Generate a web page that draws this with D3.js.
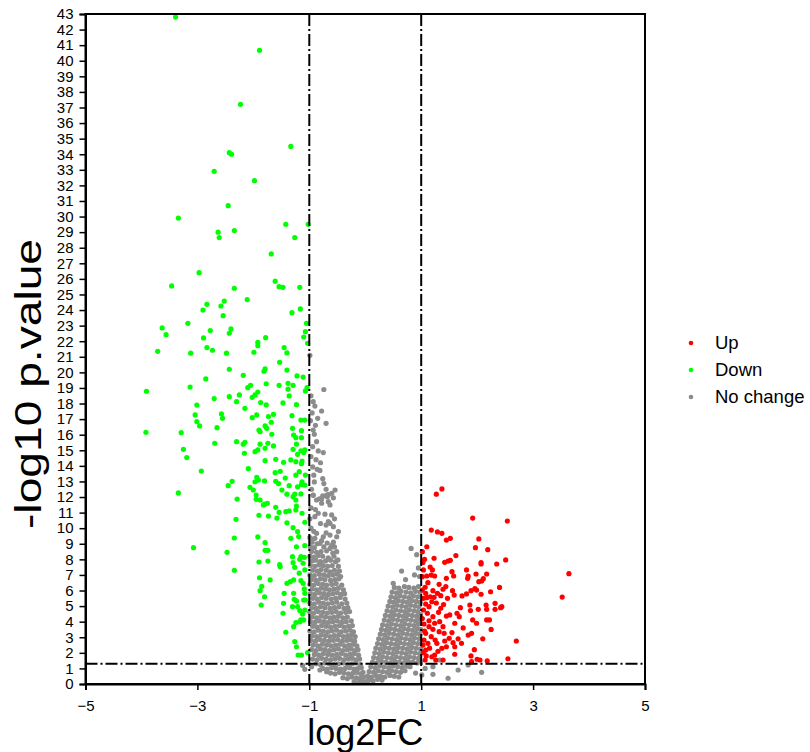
<!DOCTYPE html>
<html>
<head>
<meta charset="utf-8">
<script src="https://cdn.jsdelivr.net/npm/d3@7"></script>
<style>
  html, body { margin: 0; padding: 0; background: #fff; }
  svg { display: block; font-family: "Liberation Sans", Arial, Helvetica, sans-serif; }
</style>
</head>
<body>
<script>
// Volcano plot: log2 fold change vs -log10 p-value

const xTicks = [-5, -3, -1, 1, 3, 5];
const yTicks = [0,1,2,3,4,5,6,7,8,9,10,11,12,13,14,15,16,17,18,19,20,21,22,23,24,25,26,27,28,29,30,31,32,33,34,35,36,37,38,39,40,41,42,43];
const fcCutoff = [-1, 1];
const pCutoff = 1.3;
const legendLabels = ["Up", "Down", "No change"];
const legendColors = ["#ff0000", "#00ff00", "#8c8c8c"];

// [log2FC, -log10 p]
const upGenes = [
[1.27,12.18],[1.37,12.52],[1.92,10.65],[2.54,10.46],[1.18,9.88],[1.29,9.76],[1.37,9.67],[1.45,9.24],[1.52,9.35],[2.03,9.31],[1.10,8.81],[1.02,8.49],[1.97,8.75],[2.19,8.62],
[1.23,8.07],[1.42,7.81],[1.48,7.89],[1.52,7.94],[1.62,8.24],[2.07,7.79],[2.07,7.70],[2.35,7.70],[2.51,7.96],
[1.16,7.51],[1.20,7.32],[1.04,7.32],[1.02,6.89],[1.10,6.93],[1.18,6.99],[1.24,6.93],
[1.55,7.21],[1.58,6.93],[1.45,6.78],[1.81,7.32],[1.84,6.93],[1.83,6.78],[1.98,7.06],[2.17,7.06],[2.11,6.76],[2.08,6.61],[2.03,6.57],
[1.32,6.40],[1.44,6.25],[1.39,6.08],[1.07,6.21],[1.08,5.82],[1.02,6.03],
[1.21,5.99],[1.29,5.82],[1.35,5.67],[1.23,5.56],[1.16,5.60],[1.10,5.54],[1.04,5.50],
[1.56,5.99],[1.59,5.71],[1.73,5.65],[1.81,5.78],[1.89,5.99],[1.96,6.12],[1.99,6.03],[2.07,5.76],[2.24,5.92],[2.32,5.18],[2.42,4.90],[2.44,4.96],[3.52,5.58],[3.64,7.08],
[1.08,5.13],[1.19,5.28],[1.14,4.96],[1.35,4.86],[1.45,4.36],[1.51,4.43],[1.64,4.54],[1.68,4.32],[1.60,3.90],[1.87,5.07],[1.88,4.71],[1.99,3.90],[1.92,4.11],[2.02,4.79],[2.16,5.07],[2.17,4.79],[2.17,4.11],[2.22,4.11],[2.32,4.79],
[1.04,4.75],[1.11,4.54],[1.21,4.32],[1.14,4.06],[1.24,3.90],[1.33,4.00],[1.05,3.85],[1.14,3.68],[1.21,3.51],[1.32,3.36],[1.39,3.68],[1.41,3.25],[1.08,3.25],[1.18,3.04],[1.25,2.82],[1.28,2.61],[1.12,2.61],[1.05,2.82],[1.42,2.76],[1.50,2.93],[1.57,2.65],[1.60,2.39],[1.45,2.39],[1.37,2.29],[1.72,2.61],[1.84,3.14],[1.90,3.25],[2.70,2.76],
[1.04,2.01],[1.08,2.18],[1.19,1.75],[1.24,1.86],[1.26,1.54],[1.39,1.54],[1.07,1.54],[1.60,1.91],[1.89,1.80],[2.00,1.59],[2.05,1.54],[2.18,1.49],[2.55,1.62],[1.90,1.43],
[1.02,4.20],[1.06,3.40],[1.03,2.50],[1.15,2.30],[1.30,2.10],[1.09,1.80],[1.31,4.60],[1.27,5.20],[1.40,5.10],[1.47,5.50],[1.12,6.50],[1.03,7.80],[1.06,8.00],[1.70,4.90],[1.75,3.60],[1.55,3.30],[1.66,2.90],[2.10,2.90],[2.25,3.50],[2.40,6.20],[1.95,2.20]
];

const downGenes = [
[-3.39,42.8],[-1.89,40.67],[-2.23,37.2],[-1.33,34.5],[-2.43,34.1],[-2.39,34.0],[-2.70,32.9],[-1.98,32.3],
[-2.45,30.7],[-3.34,29.9],[-1.42,29.5],[-1.02,29.5],[-2.63,29.0],[-2.34,29.1],[-2.61,28.65],[-1.26,28.65],[-1.68,27.6],[-2.97,26.4],[-3.46,25.55],[-2.34,25.4],[-1.61,25.85],[-1.54,25.5],[-1.47,25.46],[-1.17,25.46],[-2.11,24.67],[-2.52,24.58],[-2.83,24.37],[-2.90,24.0],[-2.58,24.26],[-2.54,23.64],[-1.16,24.07],[-1.31,23.83],
[-3.63,22.85],[-3.56,22.42],[-3.17,23.15],[-2.77,22.68],[-2.40,22.79],[-2.43,22.51],[-2.89,22.21],[-2.83,21.59],[-2.73,21.42],[-3.71,21.35],[-3.12,21.23],[-2.48,21.23],[-1.92,21.93],[-1.92,21.71],[-1.78,22.23],[-1.99,21.29],[-1.45,21.59],[-1.40,21.25],[-1.05,23.15],[-1.07,22.61],[-1.10,22.27],[-1.03,21.87],
[-1.53,20.65],[-2.43,20.2],[-2.18,19.81],[-1.79,20.22],[-1.81,20.07],[-1.40,20.15],[-1.22,19.77],[-1.11,19.70],[-2.85,19.58],[-3.13,19.06],[-3.91,18.79],[-2.05,19.17],[-2.10,19.02],[-1.77,19.27],[-1.54,19.17],[-1.38,19.30],[-1.29,19.17],[-1.38,18.92],[-1.07,18.81],[-1.04,19.02],[-2.70,18.32],[-2.43,18.44],[-2.25,18.55],[-1.92,18.74],[-1.97,18.55],[-2.02,18.40],[-1.36,18.49],
[-3.01,17.9],[-2.30,18.12],[-2.15,17.69],[-1.87,18.06],[-1.77,17.91],[-1.47,18.04],[-1.23,17.93],[-3.04,17.27],[-3.01,16.84],[-2.96,16.56],[-2.57,17.33],[-2.55,17.05],[-2.65,16.45],[-2.02,17.09],[-1.94,17.27],[-1.73,17.16],[-1.64,17.31],[-1.68,16.80],[-1.31,17.22],[-1.15,16.94],[-1.08,16.94],
[-3.92,16.15],[-3.29,16.13],[-3.25,15.06],[-3.19,14.53],[-2.69,15.45],[-2.30,15.55],[-2.15,15.51],[-2.18,15.39],[-2.16,14.81],[-1.97,14.91],[-1.92,15.02],[-1.88,15.39],[-1.79,15.13],[-1.74,15.45],[-1.64,15.28],[-1.90,16.30],[-1.88,16.19],[-1.79,16.56],[-1.76,16.41],[-1.67,16.03],[-1.30,16.41],[-1.28,15.98],[-1.24,15.81],[-1.14,16.26],[-1.14,15.81],[-1.23,15.39],[-1.29,15.06],[-1.15,14.97],[-1.08,15.02],[-1.21,14.74],[-1.13,14.31],[-1.10,14.85],[-1.79,14.33],[-1.60,14.42],[-1.46,14.23],[-1.33,14.38],[-1.24,14.27],[-1.14,14.14],
[-2.93,13.67],[-2.09,13.82],[-1.94,13.27],[-1.91,13.09],[-1.97,12.98],[-1.61,13.56],[-1.52,13.65],[-1.60,13.01],[-1.55,12.86],[-1.80,13.03],[-1.43,13.22],[-1.24,13.40],[-1.18,13.63],[-1.13,12.98],[-1.07,13.41],[-1.14,12.79],[-2.38,13.01],[-2.45,12.73],[-3.34,12.26],[-2.29,11.87],[-2.06,12.62],[-2.00,12.45],[-1.95,12.13],[-1.95,11.85],[-1.88,11.81],[-1.79,11.55],[-1.75,11.60],[-1.82,11.49],[-1.49,12.45],[-1.40,12.18],[-1.36,12.73],[-1.29,12.02],[-1.24,11.81],[-1.23,11.42],[-1.26,12.18],[-1.15,12.20],[-1.08,12.77],[-1.21,12.66],[-1.60,11.34],[-1.54,11.02],[-1.42,11.06],[-1.36,11.12],[-1.90,10.83],[-1.73,10.78],[-1.58,10.65],
[-1.24,11.17],[-1.13,10.96],[-1.08,10.38],[-1.40,10.35],[-1.29,10.03],[-1.21,9.78],[-1.19,9.46],[-1.33,9.35],[-1.23,8.81],[-1.08,8.88],[-2.31,10.57],[-2.34,9.37],[-1.92,9.44],[-1.79,9.07],[-1.79,8.58],[-1.74,8.58],[-1.74,7.89],[-3.07,8.75],[-2.47,8.45],[-2.34,7.30],[-1.90,7.83],[-1.89,6.82],[-1.88,5.99],[-1.85,6.27],[-1.86,5.07],[-1.80,5.60],[-1.70,6.68],[-1.53,7.66],[-1.52,7.53],[-1.40,6.46],[-1.34,6.57],[-1.28,6.68],[-1.45,5.82],[-1.46,5.18],[-1.47,4.54],[-1.42,3.32],
[-1.30,8.17],[-1.29,7.79],[-1.26,7.49],[-1.17,8.00],[-1.15,8.17],[-1.09,8.13],[-1.11,7.75],[-1.08,7.32],[-1.18,7.11],[-1.15,6.63],[-1.11,6.46],[-1.09,6.10],[-1.08,5.82],[-1.07,5.39],
[-1.28,5.82],[-1.27,5.44],[-1.23,5.33],[-1.30,4.96],[-1.21,4.96],[-1.17,4.71],[-1.12,4.49],[-1.15,4.11],[-1.24,3.94],[-1.28,3.68],[-1.17,4.00],[-1.10,4.11],[-1.26,2.72],[-1.23,2.39],[-1.20,1.86],[-1.14,1.86],[-1.03,2.01],[-1.08,4.75],[-1.10,5.39]
];

const noChangeGenes = [
// upper tail of the left arm
[-0.99,21.1],[-0.74,18.9],[-0.97,18.5],[-0.93,18.12],[-0.90,17.84],[-0.78,17.52],[-0.95,17.4],[-0.85,17.05],[-0.98,16.9],[-0.70,16.73],[-0.89,16.6],[-0.93,16.30],[-0.91,16.03],[-0.87,15.55],[-0.75,14.85],[-0.84,14.96],[-0.94,15.23],
[-0.97,14.6],[-0.88,14.4],[-0.80,14.2],[-0.94,13.93],[-0.86,13.78],[-0.81,13.71],[-0.92,13.4],[-0.76,13.18],[-0.91,12.97],[-0.74,12.86],[-0.70,12.50],[-0.66,12.15],[-0.76,12.07],[-0.82,11.89],[-0.93,12.11],[-0.96,12.50],[-0.78,11.87],[-0.68,12.02],[-0.60,12.24],[-0.57,11.95],
[-0.93,12.13],[-0.87,11.81],[-0.78,11.60],[-0.69,12.13],[-0.66,11.70],[-0.63,11.49],[-0.54,12.45],[-0.97,11.3],[-0.89,11.2],[-0.72,10.9],[-0.55,10.6],[-0.99,10.6],[-0.80,10.3],[-0.70,10.2],
[-0.60,10.85],[-0.66,10.42],[-0.63,10.31],[-0.84,10.96],[-0.90,10.74],[-0.57,10.10],[-0.48,9.78],[-0.51,9.45],[-0.63,9.56],[-0.87,9.67],[-0.75,9.45],[-0.81,9.03],[-0.51,8.49],[-0.49,7.96],
// dense left arm
[-0.97,10.0],[-0.92,9.8],[-0.96,9.3],[-0.70,9.7],
[-0.99,9.4],[-0.90,9.35],[-0.78,9.2],[-0.57,9.1],
[-0.95,9.1],[-0.86,9.0],[-0.68,9.05],[-0.60,8.9],
[-0.98,8.8],[-0.91,8.75],[-0.74,8.8],[-0.63,8.7],[-0.55,8.8],
[-0.96,8.5],[-0.87,8.45],[-0.79,8.5],[-0.69,8.55],[-0.58,8.4],
[-0.99,8.2],[-0.92,8.15],[-0.84,8.25],[-0.76,8.2],[-0.66,8.1],[-0.56,8.2],
[-0.95,7.9],[-0.88,7.95],[-0.80,7.85],[-0.71,7.9],[-0.62,7.95],[-0.53,7.85],
[-0.98,7.6],[-0.90,7.55],[-0.83,7.65],[-0.75,7.6],[-0.67,7.55],[-0.59,7.6],[-0.48,7.55],
[-0.94,7.3],[-0.86,7.25],[-0.79,7.35],[-0.70,7.3],[-0.63,7.2],[-0.55,7.3],[-0.46,7.25],
[-0.99,7.0],[-0.91,6.95],[-0.82,7.05],[-0.74,7.0],[-0.66,6.95],[-0.58,7.0],[-0.50,7.05],[-0.44,6.9],
[-0.96,6.7],[-0.88,6.65],[-0.80,6.75],[-0.72,6.7],[-0.62,6.65],[-0.54,6.7],[-0.47,6.75],
[-0.99,6.4],[-0.92,6.35],[-0.84,6.45],[-0.76,6.4],[-0.69,6.35],[-0.60,6.4],[-0.52,6.45],[-0.42,6.35],
[-0.95,6.1],[-0.87,6.05],[-0.79,6.15],[-0.71,6.1],[-0.64,6.05],[-0.56,6.1],[-0.48,6.15],[-0.39,6.05],
[-0.98,5.8],[-0.90,5.75],[-0.82,5.85],[-0.74,5.8],[-0.66,5.75],[-0.58,5.8],[-0.50,5.85],[-0.43,5.75],[-0.37,5.8],
[-0.94,5.5],[-0.86,5.45],[-0.78,5.55],[-0.70,5.5],[-0.61,5.45],[-0.53,5.5],[-0.45,5.55],[-0.36,5.45],
[-0.99,5.2],[-0.91,5.15],[-0.83,5.25],[-0.75,5.2],[-0.67,5.15],[-0.59,5.2],[-0.51,5.25],[-0.42,5.15],[-0.33,5.2],
[-0.96,4.9],[-0.88,4.85],[-0.80,4.95],[-0.72,4.9],[-0.63,4.85],[-0.55,4.9],[-0.47,4.95],[-0.38,4.85],[-0.31,4.9],
[-0.99,4.6],[-0.92,4.55],[-0.84,4.65],[-0.76,4.6],[-0.68,4.55],[-0.60,4.6],[-0.52,4.65],[-0.44,4.55],[-0.35,4.6],[-0.28,4.65],
[-0.95,4.3],[-0.87,4.25],[-0.79,4.35],[-0.71,4.3],[-0.63,4.25],[-0.56,4.3],[-0.48,4.35],[-0.40,4.25],[-0.32,4.3],
[-0.98,4.0],[-0.90,3.95],[-0.82,4.05],[-0.74,4.0],[-0.66,3.95],[-0.58,4.0],[-0.50,4.05],[-0.42,3.95],[-0.34,4.0],[-0.25,4.05],
[-0.94,3.7],[-0.86,3.65],[-0.78,3.75],[-0.70,3.7],[-0.62,3.65],[-0.54,3.7],[-0.46,3.75],[-0.38,3.65],[-0.30,3.7],[-0.23,3.75],
[-0.99,3.4],[-0.91,3.35],[-0.83,3.45],[-0.75,3.4],[-0.67,3.35],[-0.59,3.4],[-0.51,3.45],[-0.43,3.35],[-0.35,3.4],[-0.27,3.45],[-0.21,3.35],
[-0.95,3.1],[-0.87,3.05],[-0.79,3.15],[-0.71,3.1],[-0.63,3.05],[-0.55,3.1],[-0.47,3.15],[-0.39,3.05],[-0.31,3.1],[-0.24,3.15],[-0.18,3.05],
[-0.97,2.8],[-0.89,2.75],[-0.81,2.85],[-0.73,2.8],[-0.65,2.75],[-0.57,2.8],[-0.49,2.85],[-0.41,2.75],[-0.33,2.8],[-0.26,2.85],[-0.19,2.75],
[-0.93,2.5],[-0.85,2.45],[-0.77,2.55],[-0.69,2.5],[-0.61,2.45],[-0.53,2.5],[-0.45,2.55],[-0.37,2.45],[-0.29,2.5],[-0.22,2.55],[-0.15,2.45],
[-0.96,2.2],[-0.88,2.15],[-0.80,2.25],[-0.72,2.2],[-0.64,2.15],[-0.56,2.2],[-0.48,2.25],[-0.40,2.15],[-0.32,2.2],[-0.25,2.25],[-0.18,2.15],[-0.13,2.2],
[-0.91,1.9],[-0.83,1.85],[-0.75,1.95],[-0.67,1.9],[-0.59,1.85],[-0.51,1.9],[-0.43,1.95],[-0.35,1.85],[-0.27,1.9],[-0.20,1.95],[-0.12,1.85],
[-0.94,1.6],[-0.86,1.55],[-0.78,1.65],[-0.70,1.6],[-0.62,1.55],[-0.54,1.6],[-0.46,1.65],[-0.38,1.55],[-0.30,1.6],[-0.23,1.65],[-0.16,1.55],[-0.10,1.6],
[-0.88,1.3],[-0.80,1.25],[-0.72,1.35],[-0.64,1.3],[-0.56,1.25],[-0.48,1.3],[-0.40,1.35],[-0.32,1.25],[-0.24,1.3],[-0.17,1.35],[-0.09,1.25],
[-0.76,1.0],[-0.68,0.95],[-0.60,1.05],[-0.52,1.0],[-0.44,0.95],[-0.36,1.0],[-0.28,1.05],[-0.20,0.95],[-0.13,1.0],[-0.07,1.05],
[-0.62,0.7],[-0.54,0.65],[-0.46,0.75],[-0.38,0.7],[-0.30,0.65],[-0.22,0.7],[-0.15,0.75],[-0.08,0.65],[-0.04,0.75],
[-0.40,0.4],[-0.32,0.35],[-0.24,0.45],[-0.16,0.4],[-0.09,0.35],[-0.03,0.45],
[-0.20,0.15],[-0.12,0.1],[-0.05,0.2],[0.00,0.12],[0.04,0.2],
// stragglers beyond the fold-change cut-off, below the p cut-off
[-1.08,0.94],[-0.96,1.11],[-0.69,0.79],[-1.12,1.2],[-0.81,0.9],
[0.80,1.11],[0.98,1.43],[1.07,1.00],[1.21,1.11],[1.33,1.54],[1.48,0.37],[1.66,0.90],[1.84,1.22],[2.08,0.75],[1.01,0.58],[1.21,0.62],[0.90,0.70],
// upper tail of the right arm
[0.82,8.7],[0.92,8.3],[0.95,7.45],[0.65,7.25],[0.88,7.0],[0.50,6.46],[0.72,6.7],[0.97,6.9],
// dense right arm
[0.52,6.2],[0.60,6.15],[0.70,6.25],[0.78,6.2],[0.87,6.15],[0.95,6.25],
[0.48,5.9],[0.56,5.85],[0.64,5.95],[0.73,5.9],[0.81,5.85],[0.90,5.95],[0.98,5.9],
[0.46,5.6],[0.54,5.55],[0.62,5.65],[0.70,5.6],[0.78,5.55],[0.86,5.65],[0.94,5.6],
[0.44,5.3],[0.51,5.25],[0.59,5.35],[0.67,5.3],[0.75,5.25],[0.83,5.35],[0.91,5.3],[0.98,5.25],
[0.41,5.0],[0.49,4.95],[0.57,5.05],[0.65,5.0],[0.73,4.95],[0.81,5.05],[0.89,5.0],[0.96,4.95],
[0.39,4.7],[0.47,4.65],[0.55,4.75],[0.63,4.7],[0.71,4.65],[0.79,4.75],[0.87,4.7],[0.94,4.65],
[0.36,4.4],[0.44,4.35],[0.52,4.45],[0.60,4.4],[0.68,4.35],[0.76,4.45],[0.84,4.4],[0.92,4.35],[0.99,4.45],
[0.34,4.1],[0.42,4.05],[0.50,4.15],[0.58,4.1],[0.66,4.05],[0.74,4.15],[0.82,4.1],[0.90,4.05],[0.97,4.15],
[0.31,3.8],[0.39,3.75],[0.47,3.85],[0.55,3.8],[0.63,3.75],[0.71,3.85],[0.79,3.8],[0.87,3.75],[0.95,3.85],
[0.29,3.5],[0.37,3.45],[0.45,3.55],[0.53,3.5],[0.61,3.45],[0.69,3.55],[0.77,3.5],[0.85,3.45],[0.93,3.55],[0.99,3.5],
[0.27,3.2],[0.35,3.15],[0.43,3.25],[0.51,3.2],[0.59,3.15],[0.67,3.25],[0.75,3.2],[0.83,3.15],[0.91,3.25],[0.98,3.2],
[0.24,2.9],[0.32,2.85],[0.40,2.95],[0.48,2.9],[0.56,2.85],[0.64,2.95],[0.72,2.9],[0.80,2.85],[0.88,2.95],[0.96,2.9],
[0.22,2.6],[0.30,2.55],[0.38,2.65],[0.46,2.6],[0.54,2.55],[0.62,2.65],[0.70,2.6],[0.78,2.55],[0.86,2.65],[0.94,2.6],
[0.19,2.3],[0.27,2.25],[0.35,2.35],[0.43,2.3],[0.51,2.25],[0.59,2.35],[0.67,2.3],[0.75,2.25],[0.83,2.35],[0.91,2.3],[0.99,2.25],
[0.17,2.0],[0.25,1.95],[0.33,2.05],[0.41,2.0],[0.49,1.95],[0.57,2.05],[0.65,2.0],[0.73,1.95],[0.81,2.05],[0.89,2.0],[0.97,1.95],
[0.15,1.7],[0.23,1.65],[0.31,1.75],[0.39,1.7],[0.47,1.65],[0.55,1.75],[0.63,1.7],[0.71,1.65],[0.79,1.75],[0.87,1.7],[0.95,1.65],
[0.13,1.4],[0.21,1.35],[0.29,1.45],[0.37,1.4],[0.45,1.35],[0.53,1.45],[0.61,1.4],[0.69,1.35],[0.77,1.45],[0.85,1.4],[0.93,1.35],
[0.10,1.1],[0.18,1.05],[0.26,1.15],[0.34,1.1],[0.42,1.05],[0.50,1.15],[0.58,1.1],[0.66,1.05],[0.74,1.15],
[0.07,0.8],[0.15,0.75],[0.23,0.85],[0.31,0.8],[0.39,0.75],[0.47,0.85],[0.55,0.8],[0.63,0.75],[0.71,0.85],
[0.04,0.5],[0.11,0.45],[0.19,0.55],[0.27,0.5],[0.35,0.45],[0.44,0.55],[0.52,0.5],[0.60,0.45],
[0.07,0.25],[0.14,0.2],[0.22,0.3],[0.30,0.25]
];

const W = 810, H = 752;
const plot = { left: 85.5, right: 645, top: 14, bottom: 684 };

const svg = d3.select("body").append("svg")
  .attr("width", W).attr("height", H);

const x = d3.scaleLinear().domain([-5, 5]).range([plot.left, plot.right]);
const y = d3.scaleLinear().domain([0, 43]).range([plot.bottom, plot.top]);

const R = 2.6;

function drawPoints(data, color) {
  svg.append("g")
    .selectAll("circle")
    .data(data)
    .join("circle")
    .attr("cx", d => x(d[0]))
    .attr("cy", d => y(d[1]))
    .attr("r", R)
    .attr("fill", color);
}

drawPoints(noChangeGenes, legendColors[2]);
drawPoints(downGenes, legendColors[1]);
drawPoints(upGenes, legendColors[0]);

// cut-off lines
const dash = "12,3,2,3";
const cut = svg.append("g")
  .attr("stroke", "#000")
  .attr("stroke-width", 2)
  .attr("stroke-dasharray", dash)
  .attr("fill", "none");

cut.selectAll("line.v")
  .data(fcCutoff)
  .join("line")
  .attr("class", "v")
  .attr("x1", d => x(d)).attr("x2", d => x(d))
  .attr("y1", y(43)).attr("y2", y(0));

cut.append("line")
  .attr("x1", x(-5)).attr("x2", x(5))
  .attr("y1", y(pCutoff)).attr("y2", y(pCutoff));

// frame
svg.append("rect")
  .attr("x", plot.left).attr("y", plot.top)
  .attr("width", plot.right - plot.left)
  .attr("height", plot.bottom - plot.top)
  .attr("fill", "none")
  .attr("stroke", "#000")
  .attr("stroke-width", 2);

// axes
const yAxis = svg.append("g")
  .attr("transform", `translate(${plot.left},0)`)
  .call(d3.axisLeft(y).tickValues(yTicks).tickFormat(d3.format("d")).tickSize(6).tickPadding(6));

const xAxis = svg.append("g")
  .attr("transform", `translate(0,${plot.bottom})`)
  .call(d3.axisBottom(x).tickValues(xTicks).tickFormat(d3.format("d")).tickSize(6).tickPadding(10));

[yAxis, xAxis].forEach(g => {
  g.select(".domain").attr("stroke-width", 2);
  g.selectAll(".tick line").attr("stroke-width", 1.5);
  g.selectAll(".tick text")
    .attr("fill", "#000")
    .attr("font-size", 15)
    .attr("font-family", "'Liberation Sans', Arial, sans-serif");
});

// axis titles
svg.append("text")
  .attr("x", (plot.left + plot.right) / 2)
  .attr("y", 745)
  .attr("text-anchor", "middle")
  .attr("font-size", 36)
  .attr("fill", "#000")
  .text("log2FC");

svg.append("text")
  .attr("transform", "translate(41,384) rotate(-90)")
  .attr("text-anchor", "middle")
  .attr("font-size", 37)
  .attr("textLength", 290)
  .attr("lengthAdjust", "spacingAndGlyphs")
  .attr("fill", "#000")
  .text("-log10 p.value");

// legend
const legend = svg.append("g")
  .selectAll("g")
  .data(legendLabels)
  .join("g")
  .attr("transform", (d, i) => `translate(691,${343 + i * 27})`);

legend.append("circle")
  .attr("r", 2.3)
  .attr("fill", (d, i) => legendColors[i]);

legend.append("text")
  .attr("x", 24)
  .attr("dy", "0.35em")
  .attr("font-size", 18.5)
  .attr("fill", "#000")
  .text(d => d);
</script>
</body>
</html>
